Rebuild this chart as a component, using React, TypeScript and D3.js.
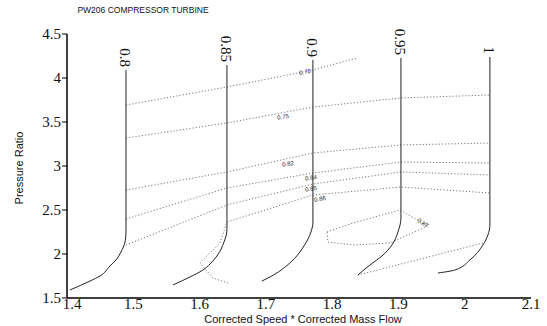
import React from "react";
import * as d3 from "d3";

type pt = [number, number]

// axis ticks
const xTicks = [1.4, 1.5, 1.6, 1.7, 1.8, 1.9, 2, 2.1]
const yTicks = [1.5, 2, 2.5, 3, 3.5, 4, 4.5]

// constant speed lines (corrected speed * corrected mass flow, pressure ratio)
const speedLabels = ["0.8", "0.85", "0.9", "0.95", "1"]
const speed080: pt[] = [[1.489, 4.09], [1.489, 2.25], [1.4875, 2.136], [1.4814, 2.023], [1.4739, 1.932], [1.4649, 1.864], [1.4498, 1.75], [1.4347, 1.693], [1.4045, 1.591]]
const speed085: pt[] = [[1.6413, 4.148], [1.6413, 2.273], [1.6368, 2.136], [1.6262, 1.977], [1.6157, 1.886], [1.6051, 1.818], [1.5855, 1.739], [1.5599, 1.648]]
const speed090: pt[] = [[1.771, 4.205], [1.771, 2.36], [1.768, 2.25], [1.7575, 2.091], [1.7363, 1.898], [1.7062, 1.739], [1.694, 1.693]]
const speed095: pt[] = [[1.9038, 4.227], [1.9038, 2.409], [1.8993, 2.25], [1.8902, 2.102], [1.8751, 1.977], [1.857, 1.875], [1.8389, 1.761]]
const speed100: pt[] = [[2.038, 4.239], [2.038, 2.33], [2.035, 2.216], [2.0275, 2.102], [2.0078, 1.932], [1.9852, 1.818], [1.9596, 1.784]]
const speeds = [speed080, speed085, speed090, speed095, speed100]

// efficiency contours
const eff070: pt[] = [[1.489, 3.693], [1.6413, 3.898], [1.771, 4.091], [1.8374, 4.227]]
const eff075: pt[] = [[1.489, 3.318], [1.6413, 3.489], [1.771, 3.67], [1.9038, 3.773], [2.038, 3.807]]
const eff082: pt[] = [[1.489, 2.727], [1.6413, 2.932], [1.771, 3.148], [1.9038, 3.239], [2.038, 3.261]]
const eff084: pt[] = [[1.489, 2.398], [1.6413, 2.75], [1.771, 2.92], [1.9038, 3.045], [2.038, 3.034]]
const eff085: pt[] = [[1.489, 2.102], [1.6413, 2.557], [1.771, 2.795], [1.9038, 2.932], [2.038, 2.898]]
const eff086: pt[] = [[1.6428, 1.67], [1.6202, 1.727], [1.6006, 1.898], [1.6308, 2.125], [1.6413, 2.364], [1.771, 2.67], [1.9038, 2.761], [2.038, 2.693]]
const eff086low: pt[] = [[2.0275, 2.125], [1.8389, 1.761]]
const eff087: pt[] = [[1.7922, 2.25], [1.8314, 2.352], [1.9023, 2.5], [1.9445, 2.318], [1.8872, 2.125], [1.8314, 2.102], [1.7937, 2.136], [1.7922, 2.25]]
const contours = [eff070, eff075, eff082, eff084, eff085, eff086, eff086low, eff087]

// contour label text and where it sits
const effLabels = ["0.70", "0.75", "0.82", "0.84", "0.85", "0.86", "0.87"]
const effLabelAt: pt[] = [[1.759, 4.068], [1.7258, 3.557], [1.7333, 3.023], [1.768, 2.864], [1.768, 2.739], [1.7816, 2.625], [1.937, 2.352]]
const effLabelAngle = [-9, -9, -9, -9, -9, -9, 35]

const W = 547
const H = 326

export default function App() {
    const x = d3.scaleLinear().domain([1.4, 2.1]).range([67, 531])
    const y = d3.scaleLinear().domain([1.5, 4.5]).range([298, 34])
    const line = d3.line<pt>()
        .x(d => x(d[0]))
        .y(d => y(d[1]))
        .curve(d3.curveMonotoneY)
    const poly = d3.line<pt>()
        .x(d => x(d[0]))
        .y(d => y(d[1]))
    const serif = "'Liberation Serif', 'Times New Roman', serif"
    const sans = "'Liberation Sans', Arial, sans-serif"
    return (
        <svg width={W} height={H} style={{ position: "absolute", left: 0, top: 0, background: "#fff" }}>
            <text x={143} y={13} fontFamily={sans} fontSize={8.5} textAnchor="middle" fill="#111">PW206 COMPRESSOR TURBINE</text>
            {/* contours */}
            {contours.map((c, i) => (
                <path key={"c" + i} d={poly(c) || ""} fill="none" stroke="#555" strokeWidth={0.8} strokeDasharray="1.2,2" />
            ))}
            {effLabels.map((t, i) => (
                <text key={"el" + i} fontFamily={sans} fontSize={6} textAnchor="middle" dominantBaseline="central" fill="#222"
                    transform={`translate(${x(effLabelAt[i][0])},${y(effLabelAt[i][1])}) rotate(${effLabelAngle[i]})`}>{t}</text>
            ))}
            {/* speed lines */}
            {speeds.map((s, i) => (
                <g key={"s" + i}>
                    <path d={line(s) || ""} fill="none" stroke="#222" strokeWidth={1} />
                    <text fontFamily={serif} fontSize={15} textAnchor="end" dominantBaseline="central" fill="#111"
                        transform={`translate(${x(s[0][0]) - 1},${y(s[0][1]) - 3}) rotate(90)`}>{speedLabels[i]}</text>
                </g>
            ))}
            {/* axes */}
            <line x1={67} x2={67} y1={y(4.5)} y2={y(1.5)} stroke="#000" strokeWidth={1.5} />
            <line x1={67} x2={x(2.1)} y1={y(1.5)} y2={y(1.5)} stroke="#000" strokeWidth={1.5} />
            {yTicks.map(t => (
                <g key={"yt" + t}>
                    <line x1={62} x2={67} y1={y(t)} y2={y(t)} stroke="#000" strokeWidth={1} />
                    <text x={61} y={y(t)} fontFamily={serif} fontSize={15} textAnchor="end" dominantBaseline="central" fill="#111">{String(t)}</text>
                </g>
            ))}
            {xTicks.map(t => (
                <text key={"xt" + t} x={x(t) + (t === 1.4 ? 5 : 0)} y={309} fontFamily={serif} fontSize={15} textAnchor="middle" fill="#111">{String(t)}</text>
            ))}
            <text x={303} y={323} fontFamily={sans} fontSize={11} textAnchor="middle" fill="#111">Corrected Speed * Corrected Mass Flow</text>
            <text transform="translate(23,168) rotate(-90)" fontFamily={sans} fontSize={11} textAnchor="middle" fill="#111">Pressure Ratio</text>
        </svg>
    )
}
